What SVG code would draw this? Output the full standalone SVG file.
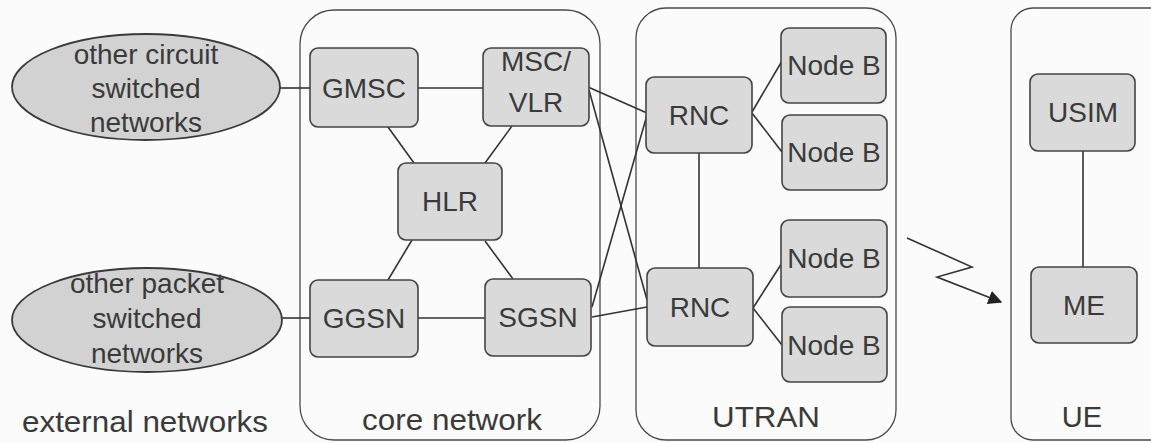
<svg xmlns="http://www.w3.org/2000/svg" width="1151" height="443" viewBox="0 0 1151 443">
<style>
  text { font-family: "Liberation Sans", Arial, sans-serif; fill: #3a3a3a; text-anchor: middle; }
  .t { font-size: 28px; }
  .lbl { font-size: 29px; }
  .box { fill: #dadada; stroke: #444; stroke-width: 1.6; }
  .ell { fill: #d2d2d2; stroke: #3a3a3a; stroke-width: 1.8; }
  .cont { fill: none; stroke: #4a4a4a; stroke-width: 1.3; }
  .ln { stroke: #333; stroke-width: 1.6; fill: none; }
</style>
<defs>
  <marker id="arr" viewBox="0 0 10 10" refX="9" refY="5" markerWidth="14" markerHeight="14" markerUnits="userSpaceOnUse" orient="auto">
    <path d="M0,0 L10,5 L0,10 Z" fill="#222"/>
  </marker>
</defs>
<rect width="1151" height="443" fill="#fbfbfb"/>

<g id="containers">
  <rect id="core-network" class="cont" x="300" y="10" width="300" height="430" rx="34"/>
  <rect id="utran" class="cont" x="636" y="8" width="260" height="432" rx="30"/>
  <rect id="ue" class="cont" x="1011" y="8" width="170" height="432" rx="22"/>
</g>

<g id="connectors">
  <line class="ln" x1="280" y1="88" x2="310" y2="88"/>
  <line class="ln" x1="282" y1="318" x2="310" y2="318"/>
  <line class="ln" x1="418" y1="88" x2="483" y2="88"/>
  <line class="ln" x1="388" y1="127" x2="414" y2="163"/>
  <line class="ln" x1="512" y1="126" x2="485" y2="163"/>
  <line class="ln" x1="412" y1="240" x2="388" y2="280"/>
  <line class="ln" x1="485" y1="241" x2="513" y2="279"/>
  <line class="ln" x1="418" y1="318" x2="485" y2="318"/>
  <line class="ln" x1="588" y1="87" x2="647" y2="113"/>
  <line class="ln" x1="589" y1="90" x2="647" y2="300"/>
  <line class="ln" x1="592" y1="307" x2="647" y2="115"/>
  <line class="ln" x1="592" y1="317" x2="647" y2="307"/>
  <line class="ln" x1="699" y1="153" x2="699" y2="268"/>
  <line class="ln" x1="752" y1="112" x2="782" y2="61"/>
  <line class="ln" x1="752" y1="113" x2="782" y2="152"/>
  <line class="ln" x1="753" y1="308" x2="782" y2="263"/>
  <line class="ln" x1="753" y1="308" x2="782" y2="345"/>
  <line class="ln" x1="1083" y1="151" x2="1083" y2="267"/>
  <polyline class="ln" points="907,238 972,267 937,277 1001,302" marker-end="url(#arr)"/>
</g>

<g id="ext-circuit">
  <ellipse class="ell" cx="146" cy="87" rx="134" ry="53"/>
  <text class="t" x="146" y="64">other circuit</text>
  <text class="t" x="146" y="98">switched</text>
  <text class="t" x="146" y="132">networks</text>
</g>
<g id="ext-packet">
  <ellipse class="ell" cx="147" cy="320" rx="135" ry="52"/>
  <text class="t" x="147" y="293">other packet</text>
  <text class="t" x="147" y="328">switched</text>
  <text class="t" x="147" y="363">networks</text>
</g>

<g id="gmsc"><rect class="box" x="310" y="48" width="108" height="79" rx="8"/><text class="t" x="364" y="98">GMSC</text></g>
<g id="msc-vlr"><rect class="box" x="483" y="48" width="106" height="78" rx="8"/><text class="t" x="536" y="71">MSC/</text><text class="t" x="536" y="112">VLR</text></g>
<g id="hlr"><rect class="box" x="398" y="163" width="104" height="77" rx="8"/><text class="t" x="450" y="211">HLR</text></g>
<g id="ggsn"><rect class="box" x="310" y="280" width="108" height="77" rx="8"/><text class="t" x="364" y="328">GGSN</text></g>
<g id="sgsn"><rect class="box" x="485" y="279" width="106" height="77" rx="8"/><text class="t" x="538" y="327">SGSN</text></g>

<g id="rnc1"><rect class="box" x="646" y="77" width="106" height="76" rx="8"/><text class="t" x="699" y="125">RNC</text></g>
<g id="rnc2"><rect class="box" x="647" y="268" width="106" height="78" rx="8"/><text class="t" x="700" y="317">RNC</text></g>
<g id="nodeb1"><rect class="box" x="781" y="28" width="105" height="75" rx="8"/><text class="t" x="834" y="75">Node B</text></g>
<g id="nodeb2"><rect class="box" x="782" y="115" width="105" height="75" rx="8"/><text class="t" x="834" y="162">Node B</text></g>
<g id="nodeb3"><rect class="box" x="781" y="220" width="106" height="77" rx="8"/><text class="t" x="834" y="268">Node B</text></g>
<g id="nodeb4"><rect class="box" x="782" y="307" width="105" height="75" rx="8"/><text class="t" x="834" y="355">Node B</text></g>

<g id="usim"><rect class="box" x="1030" y="74" width="105" height="77" rx="8"/><text class="t" x="1083" y="122">USIM</text></g>
<g id="me"><rect class="box" x="1031" y="267" width="106" height="76" rx="8"/><text class="t" x="1084" y="315">ME</text></g>

<g id="labels">
  <text class="lbl" x="145" y="432" textLength="246" lengthAdjust="spacingAndGlyphs">external networks</text>
  <text class="lbl" x="452" y="430" textLength="180" lengthAdjust="spacingAndGlyphs">core network</text>
  <text class="lbl" x="766" y="427" textLength="108" lengthAdjust="spacingAndGlyphs">UTRAN</text>
  <text class="lbl" x="1082" y="427">UE</text>
</g>
</svg>
